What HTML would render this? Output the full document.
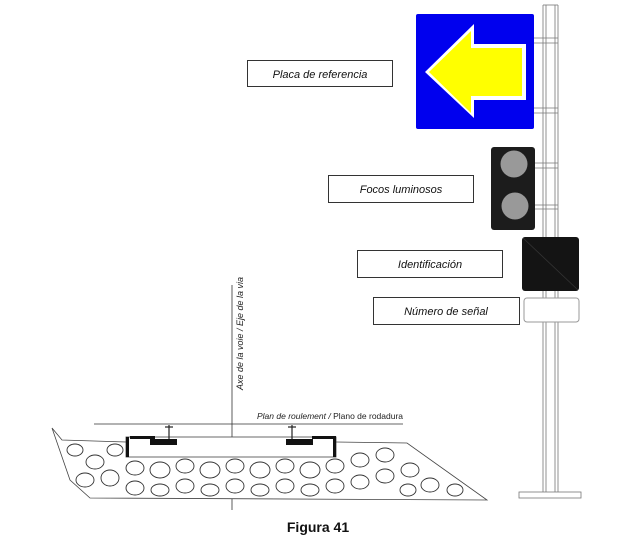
<!DOCTYPE html>
<html><head><meta charset="utf-8"><style>
body{margin:0;background:#fff;}
svg{display:block;}
text{font-family:"Liberation Sans",sans-serif;}
</style></head><body>
<svg width="630" height="550" viewBox="0 0 630 550" xmlns="http://www.w3.org/2000/svg">
<!-- pole -->
<g stroke="#777" stroke-width="0.8" fill="none">
<line x1="543" y1="5" x2="543" y2="492"/><line x1="546" y1="5" x2="546" y2="492"/>
<line x1="555" y1="5" x2="555" y2="492"/><line x1="558" y1="5" x2="558" y2="492"/>
<line x1="543" y1="5" x2="558" y2="5"/>
<line x1="534" y1="38" x2="558" y2="38"/><line x1="534" y1="43" x2="558" y2="43"/>
<line x1="534" y1="108" x2="558" y2="108"/><line x1="534" y1="113" x2="558" y2="113"/>
<line x1="534" y1="163" x2="558" y2="163"/><line x1="534" y1="168" x2="558" y2="168"/>
<line x1="534" y1="205" x2="558" y2="205"/><line x1="534" y1="209" x2="558" y2="209"/>
<rect x="519" y="492" width="62" height="6"/>
</g>
<!-- blue sign -->
<rect x="416" y="14" width="118" height="115" rx="2" fill="#0000ee"/>
<polygon points="425,72 474,24 474,44 526,44 526,100 474,100 474,118" fill="#fff"/>
<polygon points="429,72 471,31 471,48 522,48 522,96 471,96 471,113" fill="#ffff00"/>
<!-- traffic light -->
<rect x="491" y="147" width="44" height="83" rx="3" fill="#1c1c1c"/>
<circle cx="514" cy="164" r="13.5" fill="#999"/>
<circle cx="515" cy="206" r="13.5" fill="#999"/>
<!-- identification -->
<rect x="522" y="237" width="57" height="54" rx="3" fill="#141414"/>
<line x1="523" y1="238" x2="578" y2="290" stroke="#333" stroke-width="0.8"/>
<rect x="524" y="298" width="55" height="24" rx="3" fill="#fff" stroke="#999" stroke-width="1"/>
<!-- label boxes -->
<g fill="#fff" stroke="#333" stroke-width="1">
<rect x="247.5" y="60.5" width="145" height="26"/>
<rect x="328.5" y="175.5" width="145" height="27"/>
<rect x="357.5" y="250.5" width="145" height="27"/>
<rect x="373.5" y="297.5" width="146" height="27"/>
</g>
<g font-size="11" font-style="italic" fill="#111" text-anchor="middle">
<text x="320" y="78">Placa de referencia</text>
<text x="401" y="193">Focos luminosos</text>
<text x="430" y="268">Identificación</text>
<text x="446" y="315">Número de señal</text>
</g>
<!-- axis -->
<line x1="232" y1="285" x2="232" y2="510" stroke="#333" stroke-width="0.8"/>
<text transform="translate(243,390) rotate(-90)" font-size="9" font-style="italic" fill="#222">Axe de la voie / Eje de la via</text>
<line x1="94" y1="424" x2="403" y2="424" stroke="#333" stroke-width="0.8"/>
<text x="257" y="419" font-size="8.5" font-style="italic" fill="#222">Plan de roulement / <tspan font-style="normal">Plano de rodadura</tspan></text>
<!-- ballast -->
<polygon points="52,428 62,440 126,442 336,442 407,443 487,500 90,498 70,480" fill="#fff" stroke="#444" stroke-width="0.8"/>
<g fill="none" stroke="#333" stroke-width="0.9">
<ellipse cx="75" cy="450" rx="8" ry="6"/><ellipse cx="95" cy="462" rx="9" ry="7"/><ellipse cx="115" cy="450" rx="8" ry="6"/>
<ellipse cx="85" cy="480" rx="9" ry="7"/><ellipse cx="110" cy="478" rx="9" ry="8"/><ellipse cx="135" cy="468" rx="9" ry="7"/>
<ellipse cx="160" cy="470" rx="10" ry="8"/><ellipse cx="185" cy="466" rx="9" ry="7"/><ellipse cx="210" cy="470" rx="10" ry="8"/>
<ellipse cx="235" cy="466" rx="9" ry="7"/><ellipse cx="260" cy="470" rx="10" ry="8"/><ellipse cx="285" cy="466" rx="9" ry="7"/>
<ellipse cx="310" cy="470" rx="10" ry="8"/><ellipse cx="335" cy="466" rx="9" ry="7"/><ellipse cx="360" cy="460" rx="9" ry="7"/>
<ellipse cx="385" cy="455" rx="9" ry="7"/><ellipse cx="135" cy="488" rx="9" ry="7"/><ellipse cx="160" cy="490" rx="9" ry="6"/>
<ellipse cx="185" cy="486" rx="9" ry="7"/><ellipse cx="210" cy="490" rx="9" ry="6"/><ellipse cx="235" cy="486" rx="9" ry="7"/>
<ellipse cx="260" cy="490" rx="9" ry="6"/><ellipse cx="285" cy="486" rx="9" ry="7"/><ellipse cx="310" cy="490" rx="9" ry="6"/>
<ellipse cx="335" cy="486" rx="9" ry="7"/><ellipse cx="360" cy="482" rx="9" ry="7"/><ellipse cx="385" cy="476" rx="9" ry="7"/>
<ellipse cx="410" cy="470" rx="9" ry="7"/><ellipse cx="430" cy="485" rx="9" ry="7"/><ellipse cx="455" cy="490" rx="8" ry="6"/>
<ellipse cx="408" cy="490" rx="8" ry="6"/>
</g>
<!-- sleeper -->
<rect x="126" y="437" width="210" height="20" fill="#fff" stroke="#444" stroke-width="0.8"/>
<rect x="126" y="437" width="3" height="20" fill="#111"/><rect x="333" y="437" width="3" height="20" fill="#111"/>
<rect x="130" y="436" width="25" height="3" fill="#111"/><rect x="312" y="436" width="24" height="3" fill="#111"/>
<rect x="150" y="439" width="27" height="6" fill="#111"/><rect x="286" y="439" width="27" height="6" fill="#111"/>
<g stroke="#222" stroke-width="1.2"><line x1="169" y1="425" x2="169" y2="439"/><line x1="292" y1="425" x2="292" y2="439"/>
<line x1="165" y1="427" x2="173" y2="427"/><line x1="288" y1="427" x2="296" y2="427"/></g>
<text x="318" y="532" font-size="14" font-weight="bold" text-anchor="middle" fill="#111">Figura 41</text>
</svg>
</body></html>
